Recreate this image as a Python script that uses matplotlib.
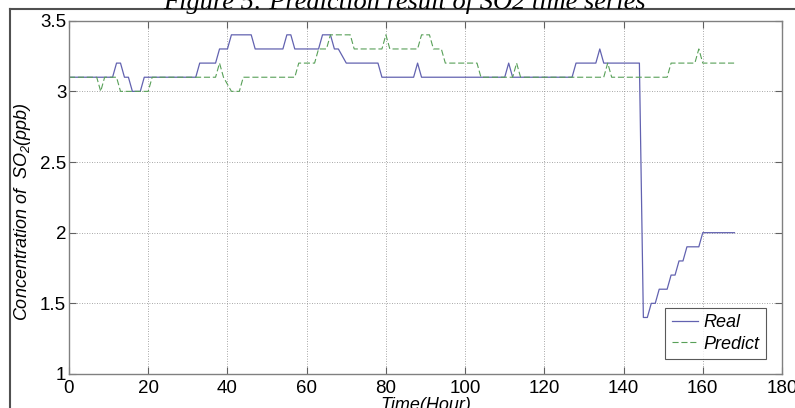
import numpy as np
import matplotlib
matplotlib.use("Agg")
import matplotlib.pyplot as plt
from matplotlib.lines import Line2D

plt.rcParams["font.family"] = ["Liberation Sans", "DejaVu Sans"]
plt.rcParams["mathtext.fontset"] = "custom"
plt.rcParams["mathtext.rm"] = "Liberation Sans:italic"
plt.rcParams["mathtext.it"] = "Liberation Sans:italic"

# hourly SO2 concentration, t = 0 .. 168
hours = np.arange(169)

real = [
    3.1, 3.1, 3.1, 3.1, 3.1, 3.1, 3.1, 3.1, 3.1, 3.1,
    3.1, 3.1, 3.2, 3.2, 3.1, 3.1, 3.0, 3.0, 3.0, 3.1,
    3.1, 3.1, 3.1, 3.1, 3.1, 3.1, 3.1, 3.1, 3.1, 3.1,
    3.1, 3.1, 3.1, 3.2, 3.2, 3.2, 3.2, 3.2, 3.3, 3.3,
    3.3, 3.4, 3.4, 3.4, 3.4, 3.4, 3.4, 3.3, 3.3, 3.3,
    3.3, 3.3, 3.3, 3.3, 3.3, 3.4, 3.4, 3.3, 3.3, 3.3,
    3.3, 3.3, 3.3, 3.3, 3.4, 3.4, 3.4, 3.3, 3.3, 3.25,
    3.2, 3.2, 3.2, 3.2, 3.2, 3.2, 3.2, 3.2, 3.2, 3.1,
    3.1, 3.1, 3.1, 3.1, 3.1, 3.1, 3.1, 3.1, 3.2, 3.1,
    3.1, 3.1, 3.1, 3.1, 3.1, 3.1, 3.1, 3.1, 3.1, 3.1,
    3.1, 3.1, 3.1, 3.1, 3.1, 3.1, 3.1, 3.1, 3.1, 3.1,
    3.1, 3.2, 3.1, 3.1, 3.1, 3.1, 3.1, 3.1, 3.1, 3.1,
    3.1, 3.1, 3.1, 3.1, 3.1, 3.1, 3.1, 3.1, 3.2, 3.2,
    3.2, 3.2, 3.2, 3.2, 3.3, 3.2, 3.2, 3.2, 3.2, 3.2,
    3.2, 3.2, 3.2, 3.2, 3.2, 1.4, 1.4, 1.5, 1.5, 1.6,
    1.6, 1.6, 1.7, 1.7, 1.8, 1.8, 1.9, 1.9, 1.9, 1.9,
    2.0, 2.0, 2.0, 2.0, 2.0, 2.0, 2.0, 2.0, 2.0,
]

predict = [
    3.1, 3.1, 3.1, 3.1, 3.1, 3.1, 3.1, 3.1, 3.0, 3.1,
    3.1, 3.1, 3.1, 3.0, 3.0, 3.0, 3.0, 3.0, 3.0, 3.0,
    3.0, 3.1, 3.1, 3.1, 3.1, 3.1, 3.1, 3.1, 3.1, 3.1,
    3.1, 3.1, 3.1, 3.1, 3.1, 3.1, 3.1, 3.1, 3.2, 3.1,
    3.05, 3.0, 3.0, 3.0, 3.1, 3.1, 3.1, 3.1, 3.1, 3.1,
    3.1, 3.1, 3.1, 3.1, 3.1, 3.1, 3.1, 3.1, 3.2, 3.2,
    3.2, 3.2, 3.2, 3.3, 3.3, 3.3, 3.4, 3.4, 3.4, 3.4,
    3.4, 3.4, 3.3, 3.3, 3.3, 3.3, 3.3, 3.3, 3.3, 3.3,
    3.4, 3.3, 3.3, 3.3, 3.3, 3.3, 3.3, 3.3, 3.3, 3.4,
    3.4, 3.4, 3.3, 3.3, 3.3, 3.2, 3.2, 3.2, 3.2, 3.2,
    3.2, 3.2, 3.2, 3.2, 3.1, 3.1, 3.1, 3.1, 3.1, 3.1,
    3.1, 3.1, 3.1, 3.2, 3.1, 3.1, 3.1, 3.1, 3.1, 3.1,
    3.1, 3.1, 3.1, 3.1, 3.1, 3.1, 3.1, 3.1, 3.1, 3.1,
    3.1, 3.1, 3.1, 3.1, 3.1, 3.1, 3.2, 3.1, 3.1, 3.1,
    3.1, 3.1, 3.1, 3.1, 3.1, 3.1, 3.1, 3.1, 3.1, 3.1,
    3.1, 3.1, 3.2, 3.2, 3.2, 3.2, 3.2, 3.2, 3.2, 3.3,
    3.2, 3.2, 3.2, 3.2, 3.2, 3.2, 3.2, 3.2, 3.2,
]

x_ticks = [0, 20, 40, 60, 80, 100, 120, 140, 160, 180]
y_ticks = [1, 1.5, 2, 2.5, 3, 3.5]
y_tick_labels = ["1", "1.5", "2", "2.5", "3", "3.5"]

W, H = 795, 408
fig = plt.figure(figsize=(W / 100, H / 100), dpi=100)
ax = fig.add_axes([69 / W, 1 - 374 / H, (782 - 69) / W, (374 - 20.7) / H])

ax.plot(hours, real, color="#6262b0", lw=0.9, label="Real")
ax.plot(hours, predict, color="#58a058", lw=0.8, linestyle=(0, (5.5, 2.5)),
        label="Predict")

ax.set_xlim(0, 180)
ax.set_ylim(1, 3.5)
ax.set_xticks(x_ticks)
ax.set_yticks(y_ticks)
ax.set_yticklabels(y_tick_labels)

ax.grid(True, color="#8a8a8a", linestyle=(0, (1, 2)), lw=0.6)
for s in ax.spines.values():
    s.set_color("#808080")
    s.set_linewidth(1.0)
ax.tick_params(direction="in", length=5, width=0.8, color="#606060",
               top=True, right=True, labelsize=13.5)
ax.tick_params(axis="x", pad=4)
ax.tick_params(axis="y", pad=2)

ax.set_xlabel("Time(Hour)", fontsize=13, style="italic", labelpad=0)
fig.text(22.5 / W, 1 - 212 / H, "Concentration of  SO$_2$(ppb)",
         rotation=90, ha="center", va="center", fontsize=13, style="italic")

leg = ax.legend(loc="lower right", bbox_to_anchor=(0.977, 0.0425),
                borderaxespad=0, fancybox=False, handlelength=1.45,
                handletextpad=0.3, borderpad=0.35, labelspacing=0.25,
                prop={"style": "italic", "size": 13})
leg.get_frame().set_edgecolor("#303030")
leg.get_frame().set_linewidth(0.8)

# page frame and caption cut off at the top
fig.add_artist(Line2D([10 / W, 10 / W], [0, 1 - 9 / H], color="#505050", lw=1.5))
fig.add_artist(Line2D([10 / W, 1], [1 - 9 / H, 1 - 9 / H], color="#505050", lw=1.5))
fig.text(404.5 / W, 1 - 9 / H, "Figure 5: Prediction result of SO2 time series",
         ha="center", va="baseline", family="Liberation Serif", style="italic",
         fontsize=19)

fig.savefig("out.png", dpi=100)
